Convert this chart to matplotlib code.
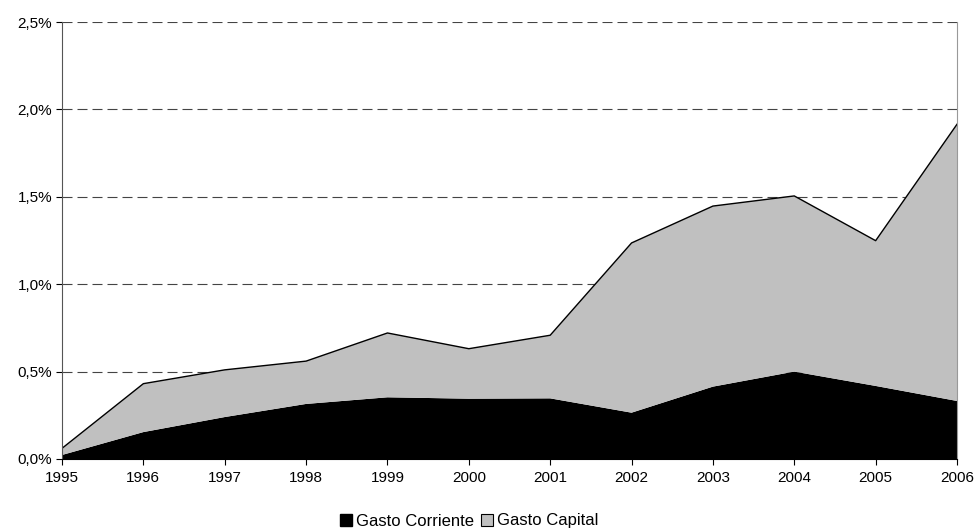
import numpy as np
import matplotlib.pyplot as plt
from matplotlib.ticker import FuncFormatter

plt.rcParams['font.family'] = ['Liberation Sans', 'DejaVu Sans']

# datos (% del PIB)
anios = [1995, 1996, 1997, 1998, 1999, 2000, 2001, 2002, 2003, 2004, 2005, 2006]
total = [0.061, 0.431, 0.51, 0.56, 0.721, 0.631, 0.708, 1.236, 1.447, 1.505, 1.249, 1.915]
corriente = [0.023, 0.154, 0.24, 0.315, 0.353, 0.345, 0.347, 0.265, 0.414, 0.50, 0.418, 0.332]
capital = list(np.array(total) - np.array(corriente))

fig = plt.figure(figsize=(9.78, 5.31), dpi=100)
ax = fig.add_axes([62/978, 1 - 459/531, (957-62)/978, (459-22)/531])

ax.stackplot(anios, corriente, capital, colors=['#000000', '#C0C0C0'],
             labels=['Gasto Corriente', 'Gasto Capital'], linewidth=0)
ax.plot(anios, total, color='black', lw=1)

ax.set_xlim(1995, 2006)
ax.set_ylim(0, 2.5)
ax.set_xticks(anios)
ax.set_yticks(np.arange(0, 2.51, 0.5))
ax.yaxis.set_major_formatter(FuncFormatter(lambda v, p: ('%.1f%%' % v).replace('.', ',')))

for y in np.arange(0.5, 2.51, 0.5):
    ax.axhline(y, color='#444444', lw=0.8, ls=(0, (9, 4.5)), zorder=0)

ax.spines['top'].set_visible(False)
ax.spines['right'].set_color('#999999')
ax.spines['left'].set_color('#555555')
ax.spines['bottom'].set_color('black')
ax.tick_params(axis='both', direction='out', length=4, labelsize=11, colors='black')
ax.tick_params(axis='x', pad=5)
ax.tick_params(axis='y', pad=3)

# leyenda
h1 = plt.Line2D([], [], marker='s', ls='', markerfacecolor='black', markeredgecolor='black', markersize=8)
h2 = plt.Line2D([], [], marker='s', ls='', markerfacecolor='#C0C0C0', markeredgecolor='black', markersize=8, markeredgewidth=0.8)
fig.legend([h1, h2], ['Gasto Corriente', 'Gasto Capital'], loc='center', bbox_to_anchor=(468/978, 1 - 521/531),
           ncol=2, frameon=False, fontsize=12, handletextpad=0.1, columnspacing=0.3, handlelength=1)

fig.savefig('out.png', dpi=100)
